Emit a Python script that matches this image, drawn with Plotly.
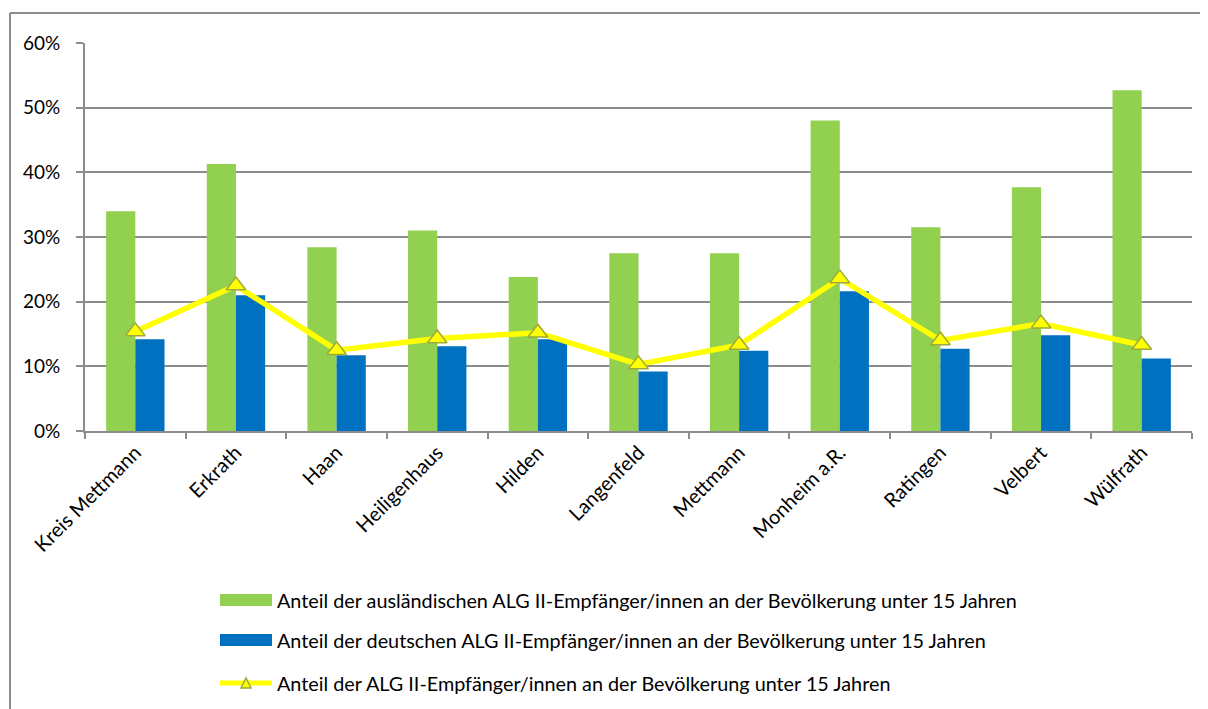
import plotly.graph_objects as go

categories = ["Kreis Mettmann", "Erkrath", "Haan", "Heiligenhaus", "Hilden", "Langenfeld",
              "Mettmann", "Monheim a.R.", "Ratingen", "Velbert", "Wülfrath"]
auslaendisch = [0.340, 0.413, 0.284, 0.310, 0.238, 0.275, 0.275, 0.480, 0.315, 0.377, 0.527]
deutsch = [0.142, 0.210, 0.117, 0.131, 0.142, 0.092, 0.124, 0.216, 0.127, 0.148, 0.112]
gesamt = [0.154, 0.225, 0.125, 0.143, 0.152, 0.103, 0.133, 0.236, 0.140, 0.166, 0.133]
y_ticks = [0, 0.1, 0.2, 0.3, 0.4, 0.5, 0.6]
y_ticklabels = ["0%", "10%", "20%", "30%", "40%", "50%", "60%"]
legend_labels = [
    "Anteil der ausländischen ALG II-Empfänger/innen an der Bevölkerung unter 15 Jahren",
    "Anteil der deutschen ALG II-Empfänger/innen an der Bevölkerung unter 15 Jahren",
    "Anteil der ALG II-Empfänger/innen an der Bevölkerung unter 15 Jahren",
]

GREEN = "#92D050"
BLUE = "#0070C0"
YELLOW = "#FFFF00"
EDGE = "#9BAA3A"
GRID = "#8C8C8C"
FONT = "Lato"

# page body has an 8px margin, so figure coordinates = page coordinates - 8
OFF = 8
W, H = 1208 - OFF, 709 - OFF
L, R, T, B = 85 - OFF, 1192 - OFF, 43 - OFF, 431 - OFF


def px(x):  # x in page pixels -> paper
    return (x - OFF - L) / (R - L)


def py(y):  # y in page pixels -> paper
    return (B - (y - OFF)) / (B - T)


fig = go.Figure()
fig.add_trace(go.Bar(x=categories, y=auslaendisch, name=legend_labels[0],
                     marker=dict(color=GREEN, line=dict(width=0))))
fig.add_trace(go.Bar(x=categories, y=deutsch, name=legend_labels[1],
                     marker=dict(color=BLUE, line=dict(width=0))))
fig.add_trace(go.Scatter(x=categories, y=gesamt, name=legend_labels[2], mode="lines+markers",
                         line=dict(color=YELLOW, width=5.5),
                         marker=dict(symbol="triangle-up", size=17, color=YELLOW,
                                     line=dict(color=EDGE, width=1.5))))

shapes = []
# outer chart border (top and left edges visible)
shapes.append(dict(type="line", xref="paper", yref="paper", x0=px(10), x1=px(1208),
                   y0=py(13), y1=py(13), line=dict(color="#8C8C8C", width=2), layer="below"))
shapes.append(dict(type="line", xref="paper", yref="paper", x0=px(10), x1=px(10),
                   y0=py(13), y1=py(709), line=dict(color="#8C8C8C", width=2), layer="below"))

annotations = []
leg_y = [600, 640, 683]
shapes.append(dict(type="rect", xref="paper", yref="paper", x0=px(220), x1=px(272),
                   y0=py(leg_y[0] + 6), y1=py(leg_y[0] - 6), fillcolor=GREEN, line=dict(width=0)))
shapes.append(dict(type="rect", xref="paper", yref="paper", x0=px(220), x1=px(272),
                   y0=py(leg_y[1] + 6), y1=py(leg_y[1] - 6), fillcolor=BLUE, line=dict(width=0)))
shapes.append(dict(type="line", xref="paper", yref="paper", x0=px(220), x1=px(272),
                   y0=py(leg_y[2]), y1=py(leg_y[2]), line=dict(color=YELLOW, width=5)))
shapes.append(dict(type="path", xref="paper", yref="paper",
                   path="M {a},{b} L {c},{b} L {d},{e} Z".format(
                       a=px(241), c=px(251), b=py(leg_y[2] + 5), d=px(246), e=py(leg_y[2] - 5)),
                   fillcolor=YELLOW, line=dict(color=EDGE, width=1.5)))
for yy, lab in zip(leg_y, legend_labels):
    annotations.append(dict(xref="paper", yref="paper", x=px(275), y=py(yy), text=lab,
                            showarrow=False, xanchor="left", yanchor="middle",
                            font=dict(family=FONT, size=19.8, color="#000000")))

fig.update_layout(
    width=W, height=H,
    margin=dict(l=L, r=W - R, t=T, b=H - B, pad=0),
    paper_bgcolor="white", plot_bgcolor="white",
    barmode="group", bargap=0.42, bargroupgap=0,
    showlegend=False,
    font=dict(family=FONT, size=20, color="#000000"),
    shapes=shapes, annotations=annotations,
    xaxis=dict(type="category", range=[-0.5, len(categories) - 0.5], tickangle=-45,
               showgrid=False, showline=True,
               linecolor=GRID, linewidth=2, ticks="outside", tickson="boundaries",
               ticklen=6, tickcolor=GRID, tickwidth=1.5,
               tickfont=dict(family=FONT, size=20)),
    yaxis=dict(range=[0, 0.6], tickvals=y_ticks, ticktext=y_ticklabels,
               showgrid=True, gridcolor=GRID, gridwidth=1.5, zeroline=False,
               showline=True, linecolor=GRID, linewidth=2, ticks="outside",
               ticklen=7, tickcolor=GRID, tickwidth=1.5, ticklabelstandoff=12,
               tickfont=dict(family=FONT, size=19)),
)

fig.write_html("out.html")
